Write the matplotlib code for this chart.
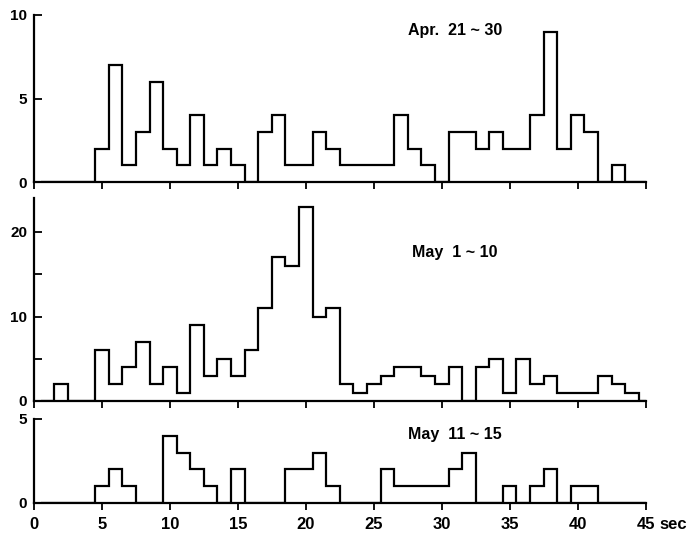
import numpy as np
import matplotlib
matplotlib.use("Agg")
import matplotlib.pyplot as plt
from matplotlib.transforms import ScaledTranslation, blended_transform_factory

plt.rcParams['font.family'] = ['Liberation Sans', 'DejaVu Sans']

seconds = list(range(1, 46))
apr_21_30 = [0, 0, 0, 0, 2, 7, 1, 3, 6, 2, 1, 4, 1, 2, 1, 0, 3, 4, 1, 1, 3, 2, 1, 1, 1,
             1, 4, 2, 1, 0, 3, 3, 2, 3, 2, 2, 4, 9, 2, 4, 3, 0, 1, 0, 0]
may_1_10 = [0, 2, 0, 0, 6, 2, 4, 7, 2, 4, 1, 9, 3, 5, 3, 6, 11, 17, 16, 23, 10, 11, 2, 1, 2,
            3, 4, 4, 3, 2, 4, 0, 4, 5, 1, 5, 2, 3, 1, 1, 1, 3, 2, 1, 0]
may_11_15 = [0, 0, 0, 0, 1, 2, 1, 0, 0, 4, 3, 2, 1, 0, 2, 0, 0, 0, 2, 2, 3, 1, 0, 0, 0,
             2, 1, 1, 1, 1, 2, 3, 0, 0, 1, 0, 1, 2, 0, 1, 1, 0, 0, 0, 0]

titles = ["Apr.  21 ~ 30", "May  1 ~ 10", "May  11 ~ 15"]
ymaxs = [10, 24, 5]
yticks_major = [[0, 5, 10], [0, 10, 20], [0, 5]]
yticks_minor = [[], [5, 15], []]
xticks = [0, 5, 10, 15, 20, 25, 30, 35, 40, 45]

W, H = 688, 536
fig = plt.figure(figsize=(W / 100, H / 100), dpi=100)

x0, x45 = 34, 645.6
panels = [(182, 15), (401, 198.2), (503, 419)]
title_y = [30, 252, 435]

data = [apr_21_30, may_1_10, may_11_15]
edges = np.arange(0.5, 46.5, 1.0)

xt_len, xt_pad = 5, 5
for i, (vals, (yb, yt)) in enumerate(zip(data, panels)):
    ax = fig.add_axes([x0 / W, 1 - yb / H, (x45 - x0) / W, (yb - yt) / H])
    ax.stairs(vals, edges, color='black', linewidth=1.6, baseline=0)
    ax.set_xlim(0, 45)
    ax.set_ylim(0, ymaxs[i])
    for s in ['top', 'right']:
        ax.spines[s].set_visible(False)
    for s in ['left', 'bottom']:
        ax.spines[s].set_linewidth(1.6)
    ax.set_yticks(yticks_major[i])
    ax.set_yticks(yticks_minor[i], minor=True)
    ax.set_xticks(xticks)
    ax.tick_params(axis='y', which='both', direction='in', length=6, width=1.3,
                   labelsize=11, pad=5)
    ax.tick_params(axis='x', direction='out', length=xt_len, width=1.3,
                   labelsize=12, pad=xt_pad)
    for lab in ax.get_yticklabels():
        lab.set_fontweight('bold')
    if i < 2:
        ax.set_xticklabels([])
    else:
        ax.set_xticklabels([str(t) for t in xticks], fontweight='bold')
        trans = blended_transform_factory(ax.transData, ax.transAxes) + \
            ScaledTranslation(0, -(xt_len + xt_pad) / 72, fig.dpi_scale_trans)
        ax.text(46.0, 0, "sec", fontsize=12, fontweight='bold',
                transform=trans, va='top', ha='left', clip_on=False)
    fig.text(455 / W, 1 - title_y[i] / H, titles[i], ha='center', va='center',
             fontsize=11.5, fontweight='bold')

fig.savefig("out.png", dpi=100)
